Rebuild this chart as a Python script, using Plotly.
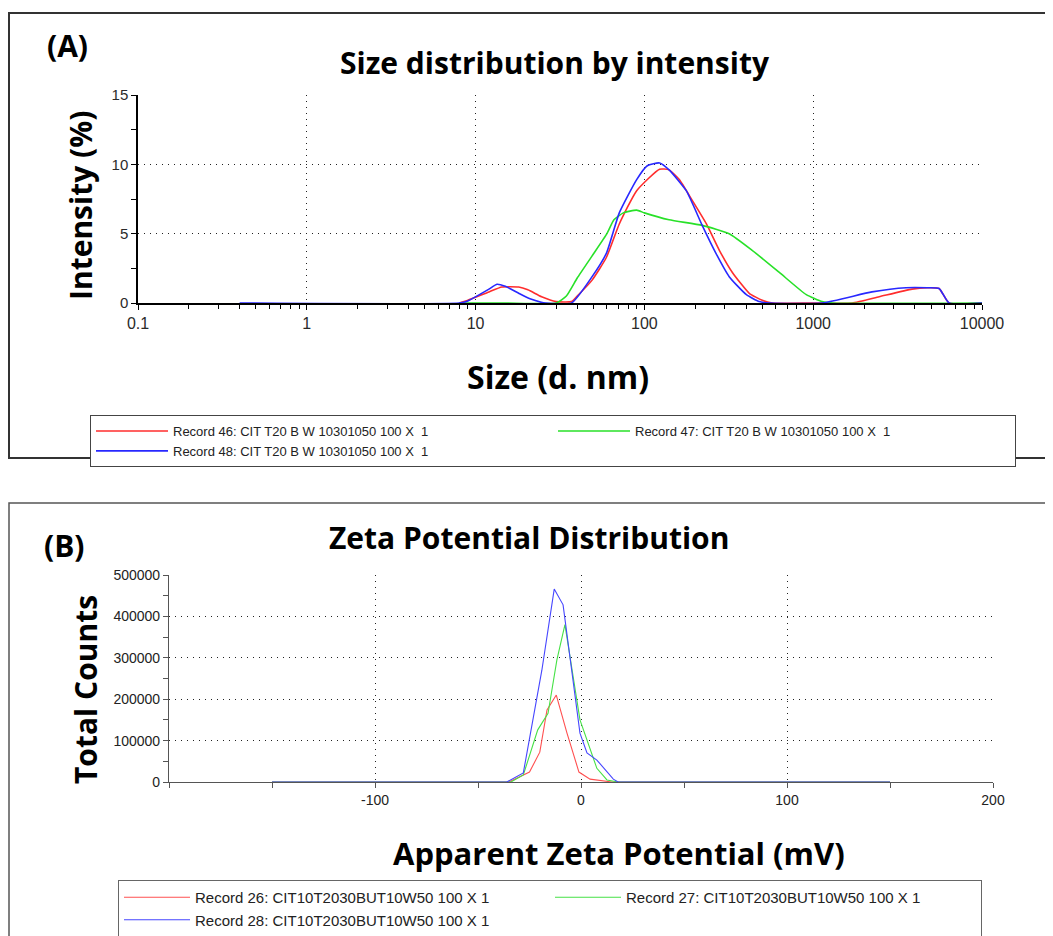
import plotly.graph_objects as go

# ---------------- Panel A data: size distribution by intensity ----------------
size_46 = [8, 9, 12, 14.3, 18, 20.4, 24.6, 30, 37, 40, 49, 59.6, 71, 90, 123, 140, 161, 192,
           233, 278, 332, 418, 499, 572, 1000, 1700, 2460, 3850, 4730, 5570, 6380, 10000]
intensity_46 = [0, 0.2, 0.8, 1.15, 1.15, 0.95, 0.45, 0.1, 0.1, 0.5, 1.65, 3.3, 5.7, 8.1, 9.65, 9.6, 8.9, 7.4,
                5.7, 3.8, 2.2, 0.7, 0.2, 0, 0, 0, 0.45, 1.0, 1.1, 1.05, 0, 0]

size_47 = [8, 15, 30, 34.5, 40, 49, 60, 66, 75, 90, 100, 140, 220, 318, 435, 630, 910, 1130, 1300, 10000]
intensity_47 = [0, 0, 0, 0.5, 1.8, 3.4, 5.0, 6.0, 6.5, 6.7, 6.5, 6.0, 5.6, 5.0, 3.8, 2.2, 0.6, 0.1, 0, 0]

size_48 = [0.4, 8, 9, 12, 13.4, 15, 18, 21, 24.5, 26, 37, 49, 59.6, 71, 90, 104, 123, 140, 177, 220,
           265, 318, 402, 479, 560, 1130, 2230, 3550, 4730, 5570, 6380, 10000]
intensity_48 = [0, 0, 0.15, 1.0, 1.35, 1.2, 0.7, 0.3, 0.05, 0, 0, 1.9, 3.6, 6.5, 8.9, 9.9, 10.1, 9.6, 8.1, 5.6,
                3.6, 1.9, 0.6, 0.1, 0, 0, 0.8, 1.1, 1.1, 1.05, 0, 0]

size_ticks = [0.1, 1, 10, 100, 1000, 10000]
size_tick_text = ["0.1", "1", "10", "100", "1000", "10000"]

# ---------------- Panel B data: zeta potential distribution ----------------
zeta_26 = [-150, -35, -25, -20, -16.5, -12, -6.8, -1, 4.4, 15, 150]
counts_26 = [0, 0, 24000, 72000, 174000, 210000, 118000, 24000, 7000, 0, 0]

zeta_27 = [-150, -34, -28, -21, -16, -11.7, -7.8, -0.5, 7.7, 12.6, 18, 150]
counts_27 = [0, 0, 17000, 126000, 166000, 295000, 380000, 150000, 33000, 5000, 0, 0]

zeta_28 = [-150, -36, -28, -19, -13, -8.7, -0.5, 2.9, 7.7, 15.7, 18, 150]
counts_28 = [0, 0, 22000, 270000, 466000, 428000, 118000, 70000, 53000, 7000, 0, 0]

zeta_ticks = [-100, 0, 100, 200]
zeta_tick_text = ["-100", "0", "100", "200"]
count_ticks = [0, 100000, 200000, 300000, 400000, 500000]
count_tick_text = ["0", "100000", "200000", "300000", "400000", "500000"]

names_a = ["Record 46: CIT T20 B W 10301050 100 X  1",
           "Record 47: CIT T20 B W 10301050 100 X  1",
           "Record 48: CIT T20 B W 10301050 100 X  1"]
names_b = ["Record 26: CIT10T2030BUT10W50 100 X 1",
           "Record 27: CIT10T2030BUT10W50 100 X 1",
           "Record 28: CIT10T2030BUT10W50 100 X 1"]

W, H = 1053, 936
OFF = 8  # page body margin
def px(x):
    return (x - OFF) / W
def py(y):
    return 1 - (y - OFF) / H

RED_A, GREEN_A, BLUE_A = "rgb(255,45,45)", "rgb(40,225,40)", "rgb(40,40,255)"
RED_B, GREEN_B, BLUE_B = "rgb(255,80,80)", "rgb(70,225,70)", "rgb(70,70,255)"

fig = go.Figure()

for xs, ys, name, col in [(size_46, intensity_46, names_a[0], RED_A),
                          (size_47, intensity_47, names_a[1], GREEN_A),
                          (size_48, intensity_48, names_a[2], BLUE_A)]:
    fig.add_trace(go.Scatter(x=xs, y=ys, mode="lines", name=name,
                             line=dict(color=col, width=1.6, shape="spline", smoothing=0.5),
                             xaxis="x", yaxis="y", legend="legend"))

for xs, ys, name, col in [(zeta_26, counts_26, names_b[0], RED_B),
                          (zeta_27, counts_27, names_b[1], GREEN_B),
                          (zeta_28, counts_28, names_b[2], BLUE_B)]:
    fig.add_trace(go.Scatter(x=xs, y=ys, mode="lines", name=name,
                             line=dict(color=col, width=1.1),
                             xaxis="x2", yaxis="y2", legend="legend2"))

ARIAL = "Liberation Sans, Arial, sans-serif"
grid_dash = "1px,5px"

fig.update_layout(
    width=W, height=H,
    margin=dict(l=0, r=0, t=0, b=0, pad=0, autoexpand=False),
    paper_bgcolor="white", plot_bgcolor="white",
    xaxis=dict(domain=[px(138), px(982)], anchor="y", type="log", range=[-1, 4],
               tickvals=size_ticks, ticktext=size_tick_text,
               tickfont=dict(family=ARIAL, size=16, color="#2a2a2a"),
               showline=True, linecolor="black", linewidth=1.5,
               ticks="outside", ticklen=5, tickcolor="black",
               minor=dict(ticks="outside", ticklen=4, dtick="D1", tickcolor="black", showgrid=False),
               showgrid=True, gridcolor="#222", griddash=grid_dash, gridwidth=1.2,
               zeroline=False, fixedrange=True, automargin=False),
    yaxis=dict(domain=[py(303), py(95)], anchor="x", range=[0, 15], dtick=5,
               tickfont=dict(family=ARIAL, size=15, color="#2a2a2a"),
               showline=True, linecolor="black", linewidth=1.5,
               ticks="outside", ticklen=5, tickcolor="black",
               minor=dict(ticks="outside", ticklen=5, dtick=2.5, tickcolor="black", showgrid=False),
               showgrid=True, gridcolor="#222", griddash=grid_dash, gridwidth=1.2,
               zeroline=False, fixedrange=True, automargin=False),
    xaxis2=dict(domain=[px(169), px(993)], anchor="y2", range=[-200, 200],
                tickvals=zeta_ticks, ticktext=zeta_tick_text,
                tickfont=dict(family=ARIAL, size=14, color="#222"),
                showline=True, linecolor="#555", linewidth=1.2,
                ticks="outside", ticklen=5, tickcolor="#555",
                minor=dict(ticks="outside", ticklen=5, dtick=50, tickcolor="#555", showgrid=False),
                showgrid=True, gridcolor="#222", griddash=grid_dash, gridwidth=1.2,
                zeroline=False, fixedrange=True, automargin=False),
    yaxis2=dict(domain=[py(782), py(575)], anchor="x2", range=[0, 500000],
                tickvals=count_ticks, ticktext=count_tick_text,
                tickfont=dict(family=ARIAL, size=14, color="#222"),
                showline=True, linecolor="#555", linewidth=1.2,
                ticks="outside", ticklen=5, tickcolor="#555",
                minor=dict(ticks="outside", ticklen=5, dtick=50000, tickcolor="#555", showgrid=False),
                showgrid=True, gridcolor="#222", griddash=grid_dash, gridwidth=1.2,
                zeroline=False, fixedrange=True, automargin=False),
    legend=dict(x=px(90), y=py(415), xanchor="left", yanchor="top", orientation="h",
                entrywidth=375, entrywidthmode="pixels", itemwidth=72,
                bordercolor="#444", borderwidth=1, bgcolor="white",
                font=dict(family=ARIAL, size=13, color="#222"),
                traceorder="normal"),
    legend2=dict(x=px(118), y=py(880), xanchor="left", yanchor="top", orientation="h",
                 entrywidth=350, entrywidthmode="pixels", itemwidth=66,
                 bordercolor="#666", borderwidth=1, bgcolor="white",
                 font=dict(family=ARIAL, size=15, color="#222"),
                 traceorder="normal"),
    showlegend=True,
)

# panel frames
fig.add_shape(type="rect", xref="paper", yref="paper",
              x0=px(9), x1=px(1050), y0=py(458), y1=py(13),
              line=dict(color="#333", width=2), layer="below")
fig.add_shape(type="rect", xref="paper", yref="paper",
              x0=px(9), x1=px(1050), y0=-0.02, y1=py(503),
              line=dict(color="#555", width=1.5), layer="below")

TITLE_FAMILY = "Open Sans, Lato, sans-serif"
texts = [
    ("<b>(A)</b>", 67, 46, 0, 30),
    ("<b>Size distribution by intensity</b>", 555, 62, 0, 30),
    ("<b>Intensity (%)</b>", 80, 206, -90, 30),
    ("<b>Size (d. nm)</b>", 558, 377, 0, 32),
    ("<b>(B)</b>", 64, 545, 0, 30),
    ("<b>Zeta Potential Distribution</b>", 529, 537, 0, 30),
    ("<b>Total Counts</b>", 85, 690, -90, 30),
    ("<b>Apparent Zeta Potential (mV)</b>", 619, 853, 0, 31),
]
for t, x, y, ang, sz in texts:
    fig.add_annotation(text=t, x=px(x), y=py(y), xref="paper", yref="paper",
                       xanchor="center", yanchor="middle", showarrow=False, textangle=ang,
                       font=dict(family=TITLE_FAMILY, size=sz, color="black"))

fig.write_html("out.html")
